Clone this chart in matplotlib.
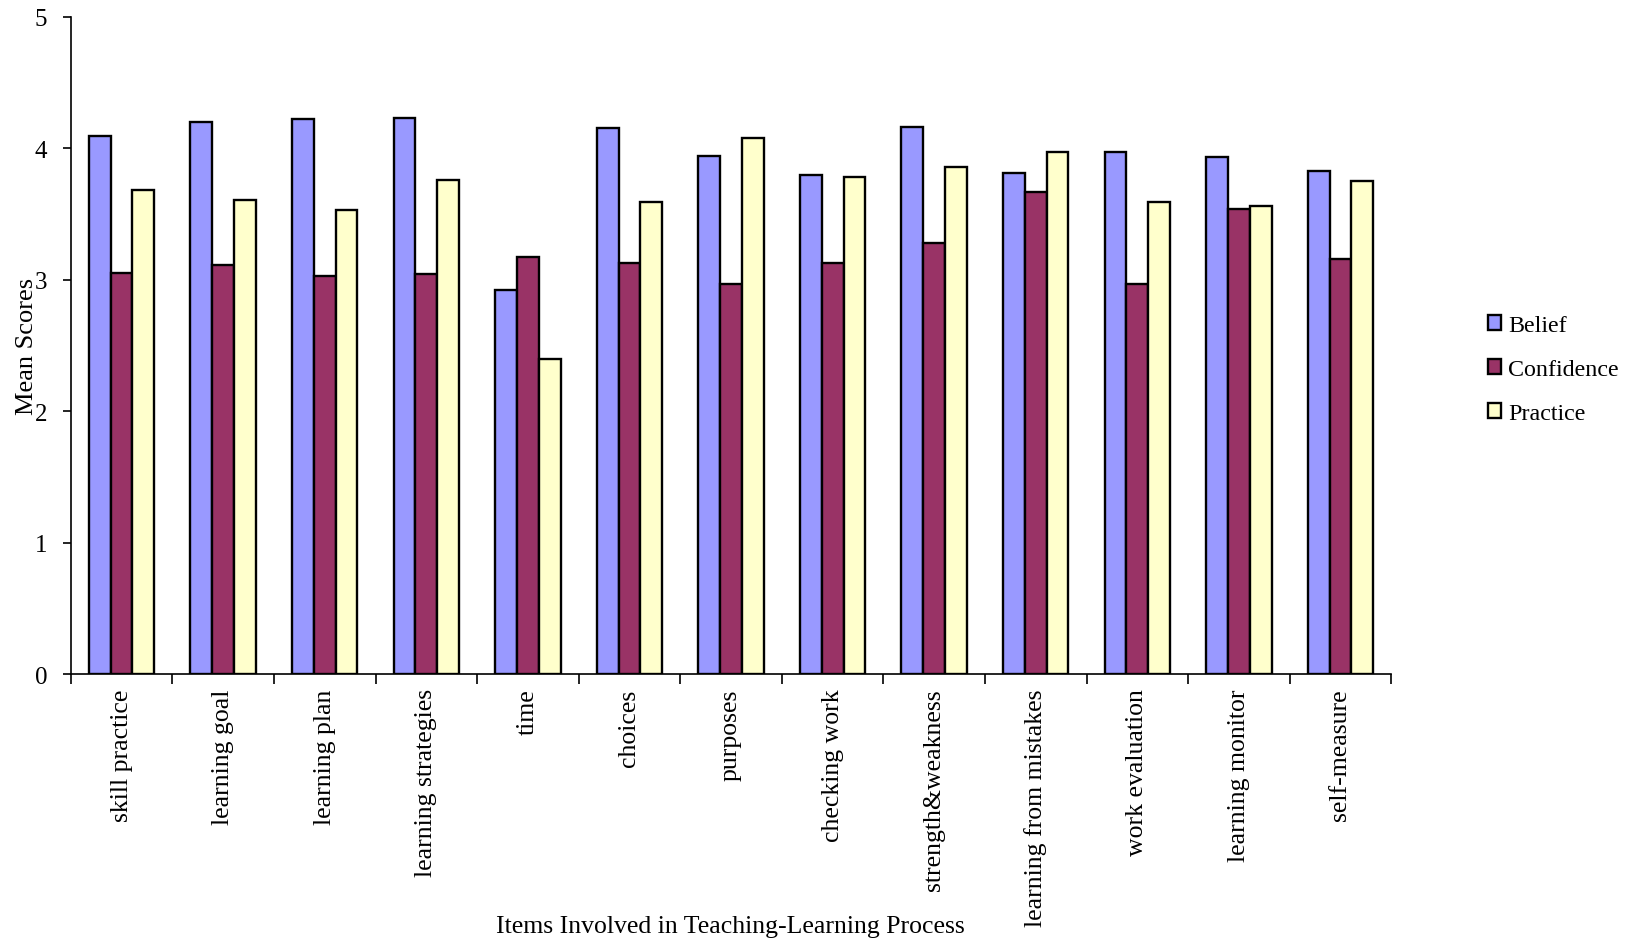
import numpy as np
import matplotlib
matplotlib.use("Agg")
import matplotlib.pyplot as plt

categories = ["skill practice", "learning goal", "learning plan", "learning strategies",
              "time", "choices", "purposes", "checking work", "strength&weakness",
              "learning from mistakes", "work evaluation", "learning monitor", "self-measure"]
belief     = [4.09, 4.20, 4.22, 4.23, 2.92, 4.15, 3.94, 3.80, 4.16, 3.81, 3.97, 3.93, 3.83]
confidence = [3.05, 3.11, 3.03, 3.04, 3.17, 3.13, 2.97, 3.13, 3.28, 3.67, 2.97, 3.54, 3.16]
practice   = [3.68, 3.61, 3.53, 3.76, 2.40, 3.59, 4.08, 3.78, 3.86, 3.97, 3.59, 3.56, 3.75]
series_names = ["Belief", "Confidence", "Practice"]
colors = ["#9999FF", "#993366", "#FFFFCC"]

plt.rcParams['font.family'] = ['Liberation Serif', 'DejaVu Serif']

fig = plt.figure(figsize=(16.31, 9.45), dpi=100)
ax = fig.add_axes([0.0434, 0.2853, 0.8096, 0.696])

x = np.arange(len(categories))
w = 0.215
for i, (vals, name, c) in enumerate(zip([belief, confidence, practice], series_names, colors)):
    ax.bar(x + (i - 1) * w, vals, width=w, color=c, edgecolor="black", linewidth=1.7,
           label=name, zorder=3)

ax.set_xlim(-0.5, len(categories) - 0.5)
ax.set_ylim(0, 5)
ax.set_yticks([0, 1, 2, 3, 4, 5])
ax.set_yticklabels(["0", "1", "2", "3", "4", "5"], fontsize=18)
ax.set_xticks(x)
ax.set_xticklabels(categories, rotation=90, fontsize=18.5)
ax.set_xticks(np.arange(-0.5, len(categories), 1.0), minor=True)
ax.tick_params(axis='x', which='major', length=0, pad=10)
ax.tick_params(axis='x', which='minor', length=7, width=1.2, direction='out')
ax.tick_params(axis='y', length=6, width=1.2, direction='out', pad=11)
for s in ["top", "right"]:
    ax.spines[s].set_visible(False)
for s in ["left", "bottom"]:
    ax.spines[s].set_linewidth(1.2)

ax.set_ylabel("Mean Scores", fontsize=19)
ax.yaxis.set_label_coords(-0.025, 0.5)
fig.text(0.448, 0.007, "Items Involved in Teaching-Learning Process", ha="center", va="bottom", fontsize=18.5)

fig.legend(loc="center left", bbox_to_anchor=(0.899, 0.608), frameon=False, fontsize=17.3,
           handlelength=0.55, handleheight=0.55, handletextpad=0.3, labelspacing=0.95)

fig.savefig("out.png", dpi=100)
